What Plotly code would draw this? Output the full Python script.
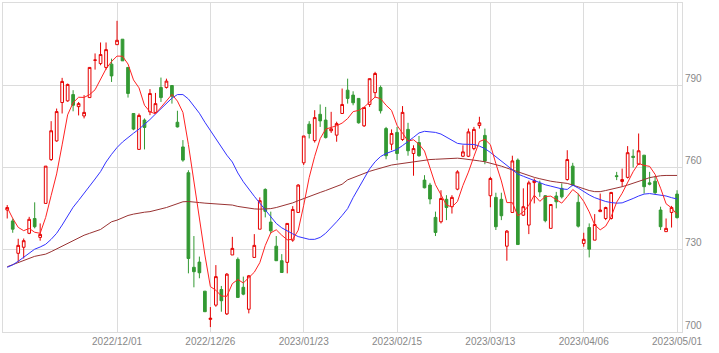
import plotly.graph_objects as go
import pandas as pd

# Trading days (Japan) from 2022/11/01 to 2023/05/01
trading_days = {
    "2022/11": [1, 2, 4, 7, 8, 9, 10, 11, 14, 15, 16, 17, 18, 21, 22, 24, 25, 28, 29, 30],
    "2022/12": [1, 2, 5, 6, 7, 8, 9, 12, 13, 14, 15, 16, 19, 20, 21, 22, 23, 26, 27, 28, 29, 30],
    "2023/01": [4, 5, 6, 10, 11, 12, 13, 16, 17, 18, 19, 20, 23, 24, 25, 26, 27, 30, 31],
    "2023/02": [1, 2, 3, 6, 7, 8, 9, 10, 13, 14, 15, 16, 17, 20, 21, 22, 24, 27, 28],
    "2023/03": [1, 2, 3, 6, 7, 8, 9, 10, 13, 14, 15, 16, 17, 20, 22, 23, 24, 27, 28, 29, 30, 31],
    "2023/04": [3, 4, 5, 6, 7, 10, 11, 12, 13, 14, 17, 18, 19, 20, 21, 24, 25, 26, 27, 28],
    "2023/05": [1],
}
dates = [f"{m}/{d:02d}" for m, days in trading_days.items() for d in days]

open_ = [744.5, 740.5, 728.7, 730.9, 736.0, 741.4, 734.5, 746.9, 762.9, 769.7,
         783.7, 784.3, 786.6, 782.2, 778.8, 785.5, 799.1, 797.9, 796.5, 797.7,
         804.8, 806.8, 796.5, 779.7, 766.6, 777.3, 780.3, 780.1, 789.2, 789.2,
         789.9, 776.5, 767.5, 758.1, 723.6, 725.5, 714.9, 704.6, 709.8, 715.5,
         706.6, 728.1, 726.5, 716.3, 708.3, 727.2, 737.5, 752.0, 740.1, 731.3,
         726.0, 725.4, 733.5, 743.6, 761.7, 775.8, 769.8, 779.4, 777.3, 773.4,
         771.8, 779.7, 788.2, 786.4, 785.2, 775.2, 783.0, 787.3, 789.2, 774.2,
         768.5, 772.8, 770.2, 773.9, 765.1, 769.1, 755.4, 753.6, 741.8, 740.2,
         748.4, 745.7, 752.1, 764.1, 764.1, 766.9, 775.3, 771.7, 749.7, 749.1,
         748.4, 731.3, 743.6, 762.7, 742.6, 739.0, 754.5, 754.2, 749.7, 737.8,
         749.6, 752.4, 755.6, 760.5, 747.3, 732.3, 738.1, 733.5, 743.9, 741.4,
         741.4, 757.0, 754.9, 756.4, 764.1, 761.2, 764.5, 754.4, 755.0, 744.5,
         736.6, 743.6, 750.3]
high = [746.3, 741.4, 734.0, 734.1, 742.0, 747.3, 739.6, 760.5, 776.9, 781.5,
        792.7, 790.6, 788.2, 783.9, 786.4, 796.5, 801.6, 805.6, 805.6, 799.7,
        813.5, 806.8, 796.5, 779.7, 779.7, 777.9, 788.6, 787.2, 792.8, 792.4,
        789.9, 780.7, 770.0, 759.0, 735.0, 727.5, 714.9, 709.1, 724.4, 716.8,
        721.5, 734.7, 727.2, 720.2, 720.8, 735.7, 749.1, 752.4, 743.9, 735.0,
        728.4, 739.6, 745.9, 753.9, 771.5, 776.9, 780.9, 783.0, 782.1, 780.3,
        776.7, 788.8, 792.4, 787.8, 785.2, 782.1, 792.4, 794.9, 789.9, 774.8,
        773.9, 774.8, 782.4, 776.3, 768.1, 771.5, 757.2, 754.4, 743.9, 751.7,
        749.9, 749.9, 759.0, 768.1, 774.2, 774.8, 778.5, 774.2, 756.6, 750.8,
        750.8, 737.2, 764.3, 763.3, 752.4, 755.2, 756.0, 755.2, 749.9, 746.5,
        751.1, 754.2, 766.3, 761.7, 750.5, 736.2, 739.6, 743.0, 750.5, 745.7,
        751.1, 758.4, 759.6, 767.8, 766.6, 772.4, 764.5, 758.4, 756.9, 745.7,
        741.4, 746.0, 751.7]
low = [741.4, 736.2, 725.6, 726.8, 735.7, 737.8, 733.3, 746.9, 762.4, 769.4,
       779.7, 784.0, 780.5, 779.0, 777.9, 785.5, 795.7, 797.3, 795.7, 791.2,
       804.8, 798.9, 785.5, 773.6, 766.6, 766.6, 779.1, 779.8, 783.9, 788.8,
       783.3, 774.6, 762.1, 721.4, 716.3, 719.6, 707.4, 701.8, 709.2, 707.4,
       706.2, 728.1, 712.6, 713.4, 706.8, 727.2, 737.5, 741.8, 736.0, 726.0,
       721.7, 721.4, 732.9, 743.6, 760.9, 770.6, 769.1, 774.8, 770.6, 772.6,
       769.4, 779.7, 783.3, 782.7, 776.0, 774.8, 782.1, 785.5, 779.7, 763.0,
       766.3, 762.7, 769.7, 764.3, 757.0, 763.9, 752.4, 746.6, 735.0, 739.6,
       740.8, 743.2, 751.7, 763.8, 763.8, 766.3, 774.2, 761.2, 745.5, 737.2,
       740.8, 726.0, 743.6, 731.9, 742.3, 735.7, 746.9, 749.3, 740.0, 737.8,
       745.1, 748.7, 755.2, 753.2, 738.1, 731.1, 727.2, 733.5, 743.9, 740.8,
       741.0, 755.4, 753.0, 756.0, 760.0, 760.9, 750.5, 753.5, 750.2, 737.2,
       736.6, 738.1, 741.4]
close = [745.4, 737.5, 731.6, 733.3, 741.1, 738.4, 735.6, 760.5, 773.4, 780.4,
         791.4, 790.3, 782.7, 783.3, 780.1, 796.5, 799.2, 801.2, 803.0, 793.4,
         806.4, 798.9, 787.0, 774.0, 779.0, 774.6, 787.0, 783.3, 785.5, 791.5,
         786.0, 774.8, 762.7, 726.8, 722.0, 721.6, 707.4, 705.0, 720.2, 711.4,
         721.1, 730.5, 712.6, 713.8, 720.5, 731.6, 747.9, 744.0, 736.9, 726.0,
         721.7, 739.6, 744.7, 753.6, 771.5, 772.4, 778.2, 777.0, 770.9, 774.1,
         776.0, 783.0, 785.2, 783.6, 776.3, 781.9, 792.4, 794.3, 780.7, 764.3,
         772.4, 765.1, 780.1, 766.1, 766.9, 764.3, 752.6, 748.5, 736.3, 748.7,
         745.4, 749.1, 758.4, 765.7, 773.0, 773.9, 776.3, 762.4, 756.0, 738.4,
         742.4, 736.8, 762.4, 731.9, 745.7, 754.4, 755.2, 751.1, 740.6, 746.5,
         747.5, 749.3, 762.9, 753.6, 738.6, 733.8, 730.2, 739.2, 744.5, 745.4,
         750.9, 756.7, 755.6, 765.4, 763.7, 766.1, 753.0, 753.9, 750.8, 738.4,
         737.8, 745.4, 741.7]

# 25-day moving average
ma25 = [723.6, 724.5, 725.8, 727.2, 728.6, 730.2, 731.0, 732.0, 733.8, 736.0,
        739.0, 742.5, 745.5, 748.0, 750.5, 753.0, 755.8, 758.5, 762.0, 764.8,
        767.3, 769.3, 771.0, 772.5, 774.0, 775.6, 777.5, 779.5, 781.5, 783.5,
        785.3, 786.6, 786.6, 785.0, 782.5, 779.8, 776.5, 773.5, 770.5, 767.5,
        764.5, 762.0, 758.0, 754.8, 752.0, 749.5, 747.0, 744.5, 742.0, 739.6,
        738.0, 736.8, 735.8, 734.8, 734.2, 733.8, 733.8, 734.5, 736.0, 738.0,
        740.2, 742.5, 745.0, 749.0, 752.4, 756.0, 759.5, 762.1, 764.0, 765.1,
        766.0, 766.6, 768.0, 769.4, 771.0, 772.6, 773.2, 773.0, 772.8, 772.2,
        771.0, 769.8, 768.8, 768.5, 768.4, 768.4, 767.8, 766.9, 765.5, 763.9,
        762.4, 760.9, 759.2, 757.6, 756.8, 756.0, 755.2, 754.4, 753.7, 753.2,
        752.7, 752.2, 752.0, 753.6, 752.5, 751.1, 750.0, 749.0, 748.3, 747.6,
        747.2, 747.0, 747.1, 747.8, 748.7, 749.6, 750.3, 750.5, 750.2, 750.0,
        749.6, 749.0, 748.5]

# 75-day moving average
ma75 = [723.8, 724.6, 725.4, 726.2, 727.0, 727.6, 728.0, 728.4, 729.3, 730.3,
        731.3, 732.3, 733.4, 734.5, 735.3, 736.0, 736.7, 737.4, 738.8, 740.2,
        740.8, 741.8, 742.5, 743.0, 743.4, 743.7, 743.9, 744.3, 744.9, 745.4,
        746.1, 746.8, 747.5, 747.6, 747.5, 747.2, 747.0, 746.9, 746.7, 746.6,
        746.5, 746.3, 745.8, 745.5, 745.1, 744.9, 744.8, 744.8, 745.0, 745.4,
        745.9, 746.5, 747.1, 747.9, 748.7, 749.5, 750.3, 750.9, 751.6, 752.3,
        753.1, 753.9, 755.5, 756.3, 757.1, 757.9, 758.6, 759.2, 759.8, 760.4,
        760.9, 761.2, 761.5, 761.8, 762.1, 762.4, 762.7, 762.9, 763.0, 763.1,
        763.2, 763.3, 763.4, 763.2, 763.0, 762.7, 762.4, 762.1, 761.6, 761.0,
        760.5, 759.8, 759.1, 758.4, 757.6, 756.9, 756.4, 755.9, 755.4, 755.0,
        754.7, 754.4, 754.2, 753.6, 752.9, 752.2, 751.6, 751.2, 751.2, 751.6,
        752.0, 752.4, 753.0, 753.6, 754.2, 754.9, 755.6, 756.3, 756.7, 757.0,
        757.1, 757.1, 757.1]

x_ticks = ["2022/12/01", "2022/12/26", "2023/01/23", "2023/02/15",
           "2023/03/13", "2023/04/06", "2023/05/01"]
y_ticks = [700, 730, 760, 790]

# 5-day moving average from closes
ma5 = pd.Series(close).rolling(5, min_periods=1).mean().tolist()

RED = "#e60000"
GREEN = "#339933"
GRID = "#dcdcdc"
LABEL = "#888888"

fig = go.Figure()
fig.add_trace(go.Candlestick(
    x=dates, open=open_, high=high, low=low, close=close,
    increasing=dict(line=dict(color=RED, width=1), fillcolor="white"),
    decreasing=dict(line=dict(color=GREEN, width=1), fillcolor=GREEN),
    whiskerwidth=0, hoverinfo="skip", showlegend=False,
))
fig.add_trace(go.Scatter(x=dates, y=ma75, mode="lines",
                         line=dict(color="#993333", width=1), hoverinfo="skip", showlegend=False))
fig.add_trace(go.Scatter(x=dates, y=ma25, mode="lines",
                         line=dict(color="#3333ff", width=1), hoverinfo="skip", showlegend=False))
fig.add_trace(go.Scatter(x=dates, y=ma5, mode="lines",
                         line=dict(color="#ff2222", width=1), hoverinfo="skip", showlegend=False))

fig.update_layout(
    template="none",
    width=719, height=353,
    margin=dict(l=3, r=37, t=3, b=21),
    paper_bgcolor="white", plot_bgcolor="white",
    font=dict(family="Liberation Sans, Arial, sans-serif", size=10, color=LABEL),
    showlegend=False,
    xaxis=dict(
        type="category", range=[-0.77, 122.9],
        tickmode="array", tickvals=x_ticks, ticktext=x_ticks,
        showgrid=True, gridcolor=GRID, gridwidth=1,
        showline=True, linecolor=GRID, linewidth=1, mirror=True,
        ticks="", zeroline=False, rangeslider=dict(visible=False),
        tickfont=dict(size=10, color=LABEL), automargin=False,
    ),
    yaxis=dict(
        side="right", range=[700, 820],
        tickmode="array", tickvals=y_ticks, ticktext=[str(v) for v in y_ticks],
        ticklabelposition="outside top",
        showgrid=True, gridcolor=GRID, gridwidth=1,
        showline=True, linecolor=GRID, linewidth=1, mirror=True,
        ticks="", zeroline=False,
        tickfont=dict(size=10, color=LABEL), automargin=False,
    ),
)

fig.write_html("out.html")
